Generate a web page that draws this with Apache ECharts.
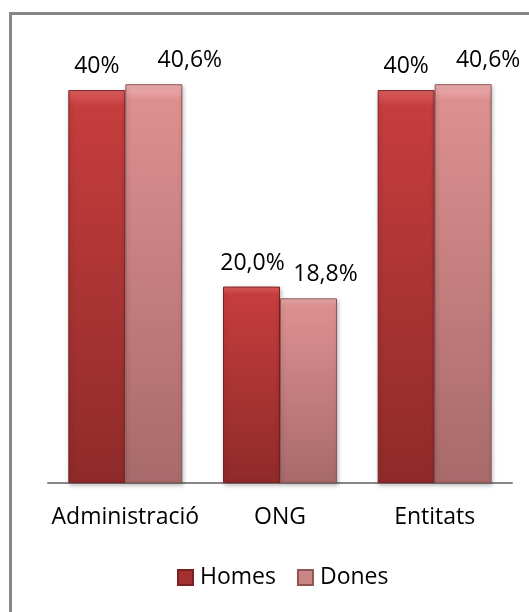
<!DOCTYPE html>
<html>
<head>
<meta charset="utf-8">
<script src="https://cdn.jsdelivr.net/npm/echarts@6/dist/echarts.min.js"></script>
<style>
html,body{margin:0;padding:0;background:#fff;}
#chart{width:529px;height:612px;}
</style>
</head>
<body>
<div id="chart"></div>
<script>
const categories = ['Administració', 'ONG', 'Entitats'];
const seriesNames = ['Homes', 'Dones'];
const homesValues = [40, 20.0, 40];
const donesValues = [40.6, 18.8, 40.6];
const homesLabels = ['40%', '20,0%', '40%'];
const donesLabels = ['40,6%', '18,8%', '40,6%'];
// label horizontal offsets (layout only)
const homesLabelDx = [0, 1, 0];
const donesLabelDx = [36, 17, 25];

const FONT = 'Open Sans';
const FS = 23;
const chart = echarts.init(document.getElementById('chart'));

function grad(top, mid, bottom) {
  return new echarts.graphic.LinearGradient(0, 0, 0, 1, [
    { offset: 0, color: top },
    { offset: 0.04, color: mid },
    { offset: 1, color: bottom }
  ]);
}

function buildData(values, labels, dx) {
  return values.map((v, i) => ({
    value: v,
    label: { formatter: labels[i], offset: [dx[i], 0] }
  }));
}

const labelStyle = {
  show: true,
  position: 'top',
  distance: 12,
  fontFamily: FONT,
  fontSize: FS,
  color: '#000'
};

chart.setOption({
  animation: false,
  backgroundColor: '#fff',
  graphic: [{
    type: 'rect',
    shape: { x: 10.5, y: 13.5, width: 700, height: 800 },
    style: { fill: 'none', stroke: '#868686', lineWidth: 3 },
    silent: true,
    z: 100
  }],
  grid: { left: 48, right: 17, top: 41, bottom: 129, containLabel: false },
  legend: {
    data: [
      { name: seriesNames[0], itemStyle: { color: '#a33131' } },
      { name: seriesNames[1], itemStyle: { color: '#cc8585' } }
    ],
    bottom: 18,
    left: 172,
    itemWidth: 15,
    itemHeight: 15,
    itemGap: 21,
    icon: 'rect',
    textStyle: { fontFamily: FONT, fontSize: FS, color: '#000', padding: [0, 0, 0, 2] }
  },
  xAxis: {
    type: 'category',
    data: categories,
    axisLine: { lineStyle: { color: '#868686', width: 2 } },
    axisTick: { show: false },
    axisLabel: { interval: 0, fontFamily: FONT, fontSize: FS, color: '#000', margin: 23 }
  },
  yAxis: {
    type: 'value',
    min: 0,
    max: 45,
    show: false,
    splitLine: { show: false }
  },
  series: [
    {
      name: seriesNames[0],
      type: 'bar',
      barWidth: 57,
      barGap: '0%',
      data: buildData(homesValues, homesLabels, homesLabelDx),
      itemStyle: {
        color: grad('#e06060', '#c63d3d', '#8f2a2a'),
        borderColor: '#7a2222',
        borderWidth: 1,
        shadowColor: 'rgba(0,0,0,0.25)',
        shadowBlur: 4,
        shadowOffsetX: 1,
        shadowOffsetY: 2
      },
      label: labelStyle
    },
    {
      name: seriesNames[1],
      type: 'bar',
      barWidth: 57,
      barGap: '0%',
      data: buildData(donesValues, donesLabels, donesLabelDx),
      itemStyle: {
        color: grad('#f0b0b0', '#dd9090', '#a86a6a'),
        borderColor: '#8f5555',
        borderWidth: 1,
        shadowColor: 'rgba(0,0,0,0.25)',
        shadowBlur: 4,
        shadowOffsetX: 1,
        shadowOffsetY: 2
      },
      label: labelStyle
    }
  ]
});
</script>
</body>
</html>
